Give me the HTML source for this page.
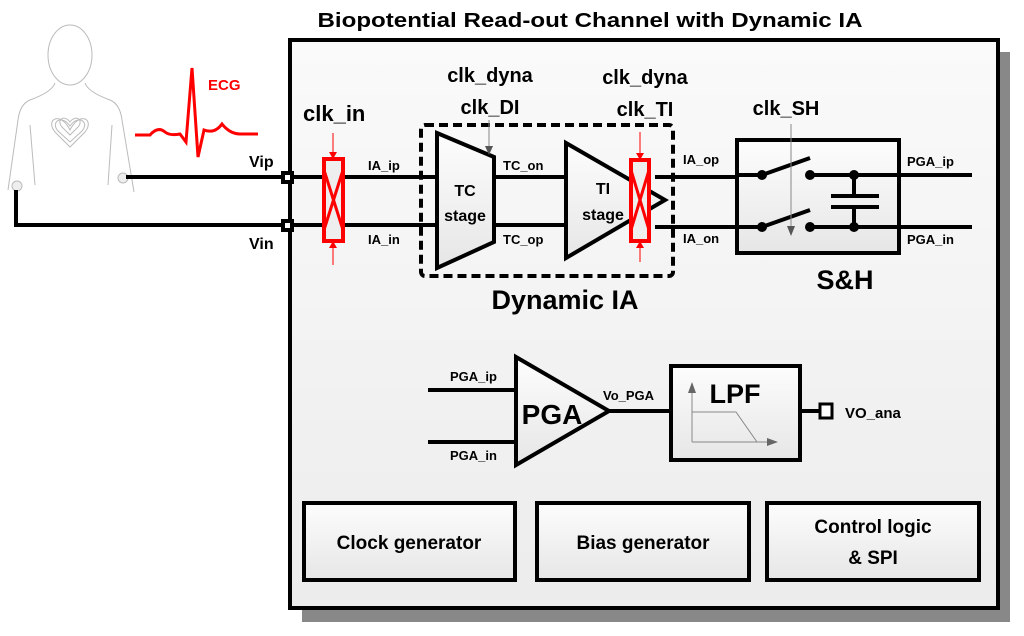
<!DOCTYPE html>
<html><head><meta charset="utf-8"><style>
html,body{margin:0;padding:0;background:#fff;}
svg{display:block;font-family:"Liberation Sans",sans-serif;font-weight:bold;}
</style></head><body>
<svg width="1024" height="636" viewBox="0 0 1024 636" xmlns="http://www.w3.org/2000/svg">
<defs>
<linearGradient id="bg" x1="0" y1="0" x2="0" y2="1"><stop offset="0" stop-color="#fafafa"/><stop offset="1" stop-color="#ececec"/></linearGradient>
<linearGradient id="bx" x1="0" y1="0" x2="0" y2="1"><stop offset="0" stop-color="#fdfdfd"/><stop offset="1" stop-color="#e6e6e6"/></linearGradient>
</defs>
<text x="590" y="27" font-size="20" text-anchor="middle" textLength="545" lengthAdjust="spacingAndGlyphs">Biopotential Read-out Channel with Dynamic IA</text>
<rect x="302" y="52" width="708" height="570" fill="#888"/>
<rect x="290" y="40" width="708" height="568" fill="url(#bg)" stroke="#000" stroke-width="4"/>
<g fill="none" stroke="#bbb" stroke-width="1">
<ellipse cx="70" cy="55" rx="22" ry="30"/>
<path d="M55 83 Q52 92 30 100 Q20 104 18 120 L8 190 M85 83 Q88 92 110 100 Q120 104 122 120 L134 192"/>
<path d="M30 125 L35 185 M112 125 L108 185"/>
<path d="M70 130 C60 110 45 120 55 132 L70 147 L85 132 C95 120 80 110 70 130Z"/>
<path d="M70 126 C62 114 50 122 58 131 L70 142 L82 131 C90 122 78 114 70 126Z"/>
<path d="M70 122 C64 114 56 120 62 127 L70 135 L78 127 C84 120 76 114 70 122Z"/>
</g>
<circle cx="17" cy="186" r="5" fill="#eee" stroke="#bbb"/>
<circle cx="123" cy="178" r="5" fill="#eee" stroke="#bbb"/>
<path d="M135 135 L150 135 Q158 126 165 132 Q170 136 180 134 L186 142 L192 68 L198 157 L204 130 Q215 134 222 124 Q230 134 240 134 L258 134" fill="none" stroke="#f00" stroke-width="3"/>
<text x="208" y="90" font-size="15" fill="#f00">ECG</text>
<g stroke="#000" stroke-width="4" fill="none">
<line x1="126" y1="177" x2="437" y2="177"/>
<polyline points="16,190 16,225 437,225"/>
</g>
<rect x="281" y="171" width="13" height="13" fill="#000"/><rect x="285" y="175" width="5" height="5" fill="#fff"/>
<rect x="281" y="219" width="13" height="13" fill="#000"/><rect x="285" y="223" width="5" height="5" fill="#fff"/>
<text x="249" y="167" font-size="16">Vip</text>
<text x="249" y="249" font-size="16">Vin</text>
<text x="303" y="121" font-size="22">clk_in</text>
<g stroke="#f00" fill="none">
<line x1="333" y1="133" x2="333" y2="158" stroke-width="1"/>
<line x1="333" y1="243" x2="333" y2="265" stroke-width="1"/>
<rect x="324" y="159" width="19" height="82" fill="#eee" stroke-width="4"/>
<line x1="324" y1="170" x2="343" y2="230" stroke-width="3"/><line x1="343" y1="170" x2="324" y2="230" stroke-width="3"/>
</g>
<path d="M329 152 L337 152 L333 159Z M329 248 L337 248 L333 241Z" fill="#f00"/>
<text x="368" y="170" font-size="13">IA_ip</text>
<text x="368" y="244" font-size="13">IA_in</text>
<rect x="421" y="125" width="252" height="151" rx="4" fill="none" stroke="#000" stroke-width="4" stroke-dasharray="9,5"/>
<text x="565" y="309" font-size="27" text-anchor="middle">Dynamic IA</text>
<text x="490" y="82" font-size="20" text-anchor="middle">clk_dyna</text>
<text x="490" y="114" font-size="20" text-anchor="middle">clk_DI</text>
<text x="645" y="84" font-size="20" text-anchor="middle">clk_dyna</text>
<text x="645" y="116" font-size="20" text-anchor="middle">clk_TI</text>
<line x1="493" y1="177" x2="566" y2="177" stroke="#000" stroke-width="4"/>
<line x1="493" y1="225" x2="566" y2="225" stroke="#000" stroke-width="4"/>
<polygon points="437,133 494,157 494,242 437,268" fill="url(#bx)" stroke="#000" stroke-width="4"/>
<line x1="489" y1="120" x2="489" y2="148" stroke="#888" stroke-width="1"/>
<path d="M485 146 L493 146 L489 155Z" fill="#555"/>
<text x="465" y="196" font-size="16" text-anchor="middle">TC</text>
<text x="465" y="221" font-size="16" text-anchor="middle">stage</text>
<text x="503" y="170" font-size="13">TC_on</text>
<text x="503" y="244" font-size="13">TC_op</text>
<polygon points="566,143 566,258 665,200" fill="url(#bx)" stroke="#000" stroke-width="4"/>
<text x="603" y="194" font-size="16" text-anchor="middle">TI</text>
<text x="603" y="220" font-size="16" text-anchor="middle">stage</text>
<g stroke="#f00" fill="none">
<line x1="640" y1="132" x2="640" y2="158" stroke-width="1"/>
<line x1="640" y1="243" x2="640" y2="262" stroke-width="1"/>
<rect x="631" y="160" width="18" height="81" fill="#eee" stroke-width="4"/>
<line x1="631" y1="170" x2="649" y2="230" stroke-width="3"/><line x1="649" y1="170" x2="631" y2="230" stroke-width="3"/>
</g>
<path d="M636 153 L644 153 L640 160Z M636 248 L644 248 L640 241Z" fill="#f00"/>
<line x1="655" y1="177" x2="737" y2="177" stroke="#000" stroke-width="4"/>
<line x1="655" y1="227" x2="737" y2="227" stroke="#000" stroke-width="4"/>
<text x="683" y="164" font-size="13">IA_op</text>
<text x="683" y="243" font-size="13">IA_on</text>
<rect x="737" y="140" width="162" height="113" fill="url(#bx)" stroke="#000" stroke-width="4"/>
<g stroke="#000" stroke-width="4">
<line x1="737" y1="175" x2="762" y2="175"/><line x1="762" y1="175" x2="810" y2="158"/>
<line x1="810" y1="175" x2="972" y2="175"/>
<line x1="737" y1="227" x2="762" y2="227"/><line x1="762" y1="227" x2="810" y2="210"/>
<line x1="810" y1="227" x2="972" y2="227"/>
<line x1="854" y1="175" x2="854" y2="196"/><line x1="854" y1="207" x2="854" y2="227"/>
<line x1="831" y1="196" x2="879" y2="196"/><line x1="831" y1="207" x2="879" y2="207"/>
</g>
<g fill="#000"><circle cx="762" cy="175" r="5"/><circle cx="810" cy="175" r="5"/><circle cx="854" cy="175" r="5"/>
<circle cx="762" cy="227" r="5"/><circle cx="810" cy="227" r="5"/><circle cx="854" cy="227" r="5"/></g>
<line x1="791" y1="124" x2="791" y2="228" stroke="#888" stroke-width="1"/>
<path d="M787 226 L795 226 L791 236Z" fill="#555"/>
<text x="786" y="115" font-size="20" text-anchor="middle">clk_SH</text>
<text x="907" y="166" font-size="13">PGA_ip</text>
<text x="907" y="244" font-size="13">PGA_in</text>
<text x="845" y="289" font-size="27" text-anchor="middle">S&amp;H</text>
<line x1="428" y1="390" x2="516" y2="390" stroke="#000" stroke-width="4"/>
<line x1="428" y1="442" x2="516" y2="442" stroke="#000" stroke-width="4"/>
<text x="450" y="381" font-size="13">PGA_ip</text>
<text x="450" y="460" font-size="13">PGA_in</text>
<polygon points="516,357 516,465 609,411" fill="url(#bx)" stroke="#000" stroke-width="4"/>
<text x="552" y="424" font-size="28" text-anchor="middle">PGA</text>
<line x1="609" y1="411" x2="671" y2="411" stroke="#000" stroke-width="4"/>
<text x="603" y="400" font-size="13">Vo_PGA</text>
<rect x="671" y="366" width="129" height="94" fill="url(#bx)" stroke="#000" stroke-width="4"/>
<text x="735" y="403" font-size="27" text-anchor="middle">LPF</text>
<g stroke="#888" stroke-width="1" fill="none">
<line x1="692" y1="442" x2="770" y2="442"/><line x1="692" y1="442" x2="692" y2="390"/>
<polyline points="692,412 736,412 757,442"/>
</g>
<path d="M688 393 L696 393 L692 382Z M767 438 L767 446 L778 442Z" fill="#666"/>
<line x1="800" y1="411" x2="820" y2="411" stroke="#000" stroke-width="4"/>
<rect x="820" y="404" width="12" height="14" fill="#fff" stroke="#000" stroke-width="3"/>
<text x="845" y="418" font-size="15">VO_ana</text>
<rect x="304" y="503" width="211" height="77" fill="url(#bx)" stroke="#000" stroke-width="4"/>
<text x="409" y="549" font-size="19" text-anchor="middle">Clock generator</text>
<rect x="537" y="503" width="212" height="77" fill="url(#bx)" stroke="#000" stroke-width="4"/>
<text x="643" y="549" font-size="19" text-anchor="middle">Bias generator</text>
<rect x="767" y="503" width="212" height="77" fill="url(#bx)" stroke="#000" stroke-width="4"/>
<text x="873" y="533" font-size="19" text-anchor="middle">Control logic</text>
<text x="873" y="564" font-size="19" text-anchor="middle">&amp; SPI</text>
</svg>
</body></html>
